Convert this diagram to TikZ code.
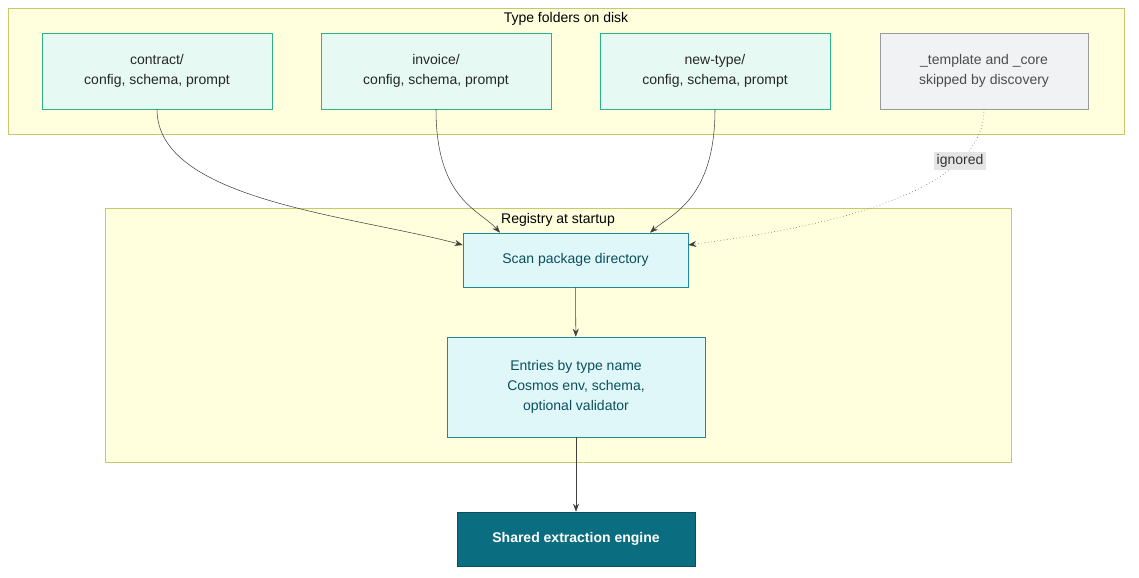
\documentclass[tikz,border=0pt]{standalone}
\usepackage{fontspec}
\setmainfont{Liberation Sans}
\usetikzlibrary{arrows.meta}
\definecolor{grpfill}{HTML}{FFFFDE}
\definecolor{grpline}{HTML}{C8C86A}
\definecolor{fldfill}{HTML}{E6FAF3}
\definecolor{fldline}{HTML}{2DB38A}
\definecolor{regfill}{HTML}{E0F7FA}
\definecolor{regline}{HTML}{1B8A9A}
\definecolor{regtext}{HTML}{0B4F5C}
\definecolor{engfill}{HTML}{0B6E80}
\definecolor{skipfill}{HTML}{F1F2F4}
\definecolor{skipline}{HTML}{9A9A9A}
\tikzset{
  every node/.style={font=\fontsize{10.5}{15}\selectfont, align=center},
  group/.style={draw=grpline, fill=grpfill},
  folder/.style={draw=fldline, fill=fldfill, minimum width=172.5pt, minimum height=57pt, text=black!85},
  skip/.style={draw=skipline, fill=skipfill, minimum width=156pt, minimum height=57pt, text=black!70},
  reg/.style={draw=regline, fill=regfill, text=regtext},
  engine/.style={draw=regtext, fill=engfill, text=white, font=\fontsize{10.5}{15}\selectfont\bfseries},
  link/.style={draw=black!75, -{Stealth[length=6pt]}},
}
\begin{document}
\begin{tikzpicture}[x=0.75pt, y=-0.75pt]
    \useasboundingbox (0,0) rectangle (1139,578);

    % Groups
    \draw[group] (8,8) rectangle (1124,134);
    \node (t1) at (566,19) {Type folders on disk};
    \draw[group] (105,208) rectangle (1011,462);
    \node (t2) at (558,220) {Registry at startup};

    % Folders
    \node[folder] (contract) at (157,71) {contract/\\config, schema, prompt};
    \node[folder] (invoice) at (436,71) {invoice/\\config, schema, prompt};
    \node[folder] (newtype) at (715,71) {new-type/\\config, schema, prompt};
    \node[skip] (tmpl) at (984,71) {\_template and \_core\\skipped by discovery};

    % Registry
    \node[reg, minimum width=168.75pt, minimum height=40.5pt] (scan) at (575.5,260) {Scan package directory};
    \node[reg, minimum width=193.5pt, minimum height=75pt] (entries) at (576,387) {Entries by type name\\Cosmos env, schema,\\optional validator};
    \node[engine, minimum width=178.5pt, minimum height=40.5pt] (engine) at (576,539) {Shared extraction engine};

    % Connectors
    \draw[link] (contract.south) .. controls (157,200) and (350,215) .. (scan.west |- 0,245);
    \draw[link] (invoice.south) .. controls (436,200) and (480,210) .. (scan.north -| 500,0);
    \draw[link] (newtype.south) .. controls (715,200) and (670,215) .. (scan.north -| 650,0);
    \draw[link, dotted] (tmpl.south) .. controls (984,200) and (800,230) .. (scan.east |- 0,245)
        node[pos=0.22, fill=black!10, text=black!80, inner sep=2pt] {ignored};
    \draw[link] (scan) -- (entries);
    \draw[link] (entries) -- (engine);
\end{tikzpicture}
\end{document}
